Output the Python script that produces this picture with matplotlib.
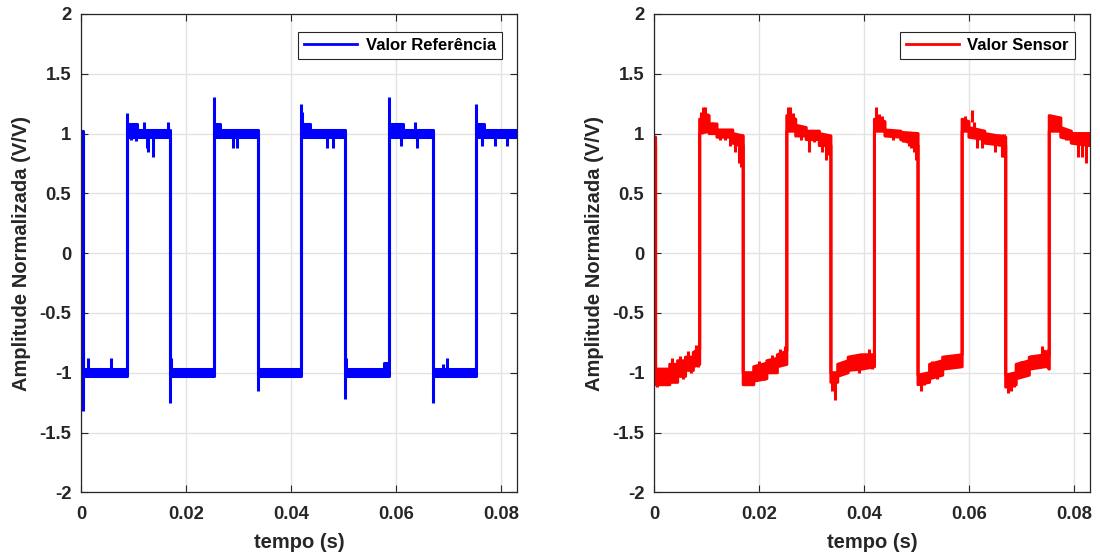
import matplotlib
matplotlib.use("Agg")
import matplotlib.pyplot as plt
from matplotlib.ticker import FuncFormatter

plt.rcParams['font.family'] = ['Liberation Sans', 'DejaVu Sans']
plt.rcParams['font.weight'] = 'bold'
plt.rcParams['axes.unicode_minus'] = False

# ---------------- data ----------------
# Reference signal: band envelope (time, lower, upper)
ref_t  = [0.0000, 0.0003, 0.0003, 0.0087, 0.0087, 0.0107, 0.0107, 0.0170,
          0.0170, 0.0253, 0.0253, 0.0265, 0.0265, 0.0337, 0.0337, 0.0420,
          0.0420, 0.0437, 0.0437, 0.0503, 0.0503, 0.0578, 0.0578, 0.0587,
          0.0587, 0.0614, 0.0614, 0.0670, 0.0670, 0.0753, 0.0753, 0.0768,
          0.0768, 0.0830]
ref_lo = [0.97, 0.97, -1.03, -1.03, 0.97, 0.97, 0.97, 0.97,
          -1.03, -1.03, 0.97, 0.97, 0.97, 0.97, -1.03, -1.03,
          0.97, 0.97, 0.97, 0.97, -1.03, -1.03, -1.03, -1.03,
          0.97, 0.97, 0.97, 0.97, -1.03, -1.03, 0.97, 0.97,
          0.97, 0.97]
ref_hi = [1.02, 1.02, -0.97, -0.97, 1.08, 1.08, 1.03, 1.03,
          -0.97, -0.97, 1.08, 1.08, 1.03, 1.03, -0.97, -0.97,
          1.08, 1.08, 1.03, 1.03, -0.97, -0.97, -0.92, -0.92,
          1.08, 1.08, 1.03, 1.03, -0.97, -0.97, 1.08, 1.08,
          1.03, 1.03]
# Reference spikes: time, base level, peak
ref_sp_t    = [0.0003, 0.00035, 0.0014, 0.0057, 0.0088, 0.0095, 0.0104, 0.0120,
               0.0125, 0.0128, 0.0138, 0.0166, 0.0170, 0.0171, 0.0253, 0.0290,
               0.0297, 0.0337, 0.0420, 0.0421, 0.0469, 0.0480, 0.0503, 0.0504,
               0.0587, 0.0610, 0.0636, 0.0640, 0.0670, 0.0690, 0.0697, 0.0753,
               0.0763, 0.0789, 0.0811]
ref_sp_base = [-1.0, -1.0, -1.0, -1.0, 1.0, 1.0, 1.0, 1.0,
               1.0, 1.0, 1.0, 1.0, -1.0, -1.0, 1.0, 1.0,
               1.0, -1.0, 1.0, 1.0, 1.0, 1.0, -1.0, -1.0,
               1.0, 1.0, 1.0, 1.0, -1.0, -1.0, -1.0, 1.0,
               1.0, 1.0, 1.0]
ref_sp_peak = [-1.32, -0.80, -0.88, -0.88, 1.17, 0.95, 0.94, 1.10,
               0.88, 0.85, 0.80, 1.10, -1.25, -0.88, 1.31, 0.88,
               0.88, -1.15, 1.25, 1.18, 0.88, 0.88, -1.22, -0.88,
               1.31, 0.90, 1.10, 0.88, -1.25, -0.93, -0.88, 1.25,
               0.90, 0.90, 0.90]

# Sensor signal: band envelope (time, lower, upper)
sen_t  = [0.0000, 0.0003, 0.0003, 0.0030, 0.0030, 0.0045, 0.0045, 0.0060,
          0.0060, 0.0075, 0.0075, 0.0087,
          0.0087, 0.0105, 0.0105, 0.0120, 0.0120, 0.0150, 0.0150, 0.0170,
          0.0170, 0.0190, 0.0190, 0.0215, 0.0215, 0.0235, 0.0235, 0.0253,
          0.0253, 0.0270, 0.0270, 0.0290, 0.0290, 0.0315, 0.0315, 0.0337,
          0.0337, 0.0350, 0.0350, 0.0370, 0.0370, 0.0395, 0.0420,
          0.0420, 0.0440, 0.0440, 0.0470, 0.0470, 0.0503,
          0.0503, 0.0525, 0.0525, 0.0550, 0.0550, 0.0587,
          0.0587, 0.0600, 0.0600, 0.0630, 0.0630, 0.0670,
          0.0670, 0.0690, 0.0690, 0.0715, 0.0715, 0.0745, 0.0745, 0.0753,
          0.0753, 0.0775, 0.0775, 0.0795, 0.0795, 0.0830]
sen_lo = [0.90, 0.90, -1.10, -1.10, -1.08, -1.08, -1.03, -1.03,
          -0.98, -0.98, -0.95, -0.93,
          1.00, 1.02, 1.00, 1.00, 0.97, 0.97, 0.92, 0.90,
          -1.10, -1.10, -1.07, -1.05, -1.00, -1.00, -0.95, -0.93,
          1.02, 1.02, 0.98, 0.98, 0.95, 0.95, 0.90, 0.90,
          -1.08, -1.08, -1.03, -1.00, -0.98, -0.97, -0.95,
          1.02, 1.02, 0.98, 0.97, 0.95, 0.90,
          -1.10, -1.08, -1.05, -1.02, -0.97, -0.95,
          1.02, 1.02, 0.97, 0.95, 0.92, 0.90,
          -1.12, -1.10, -1.05, -1.02, -0.97, -0.95, -0.93, -0.97,
          1.02, 1.02, 0.97, 0.95, 0.92, 0.90]
sen_hi = [0.97, 0.97, -0.97, -0.97, -0.93, -0.93, -0.90, -0.90,
          -0.87, -0.87, -0.83, -0.80,
          1.12, 1.15, 1.08, 1.08, 1.03, 1.03, 1.00, 0.98,
          -1.00, -1.00, -0.95, -0.92, -0.90, -0.88, -0.85, -0.82,
          1.15, 1.12, 1.07, 1.05, 1.02, 1.02, 1.00, 0.98,
          -1.00, -1.00, -0.93, -0.90, -0.87, -0.85, -0.85,
          1.12, 1.10, 1.03, 1.02, 1.01, 1.00,
          -1.02, -1.00, -0.93, -0.90, -0.87, -0.85,
          1.12, 1.10, 1.05, 1.02, 1.00, 0.97,
          -1.02, -1.00, -0.93, -0.90, -0.87, -0.85, -0.82, -0.85,
          1.15, 1.13, 1.05, 1.02, 1.00, 1.00]
# Sensor spikes: time, base level, peak
sen_sp_t = [0.0005, 0.0015, 0.0025, 0.0035, 0.0050, 0.0055, 0.0065, 0.0070, 0.0080, 0.0083,
            0.0090, 0.0094, 0.0097, 0.0101, 0.0110, 0.0125, 0.0135, 0.0145, 0.0150, 0.0155,
            0.0158, 0.0162, 0.0166, 0.0168,
            0.0175, 0.0185, 0.0200, 0.0210, 0.0225, 0.0240, 0.0250,
            0.0256, 0.0260, 0.0265, 0.0280, 0.0296, 0.0305, 0.0320, 0.0325, 0.0328, 0.0333,
            0.0340, 0.0345, 0.0360, 0.0380, 0.0390, 0.0410, 0.0415,
            0.0423, 0.0428, 0.0435, 0.0455, 0.0475, 0.0485, 0.0490, 0.0495, 0.0499, 0.0501,
            0.0508, 0.0515, 0.0530, 0.0540, 0.0560, 0.0570, 0.0580,
            0.0592, 0.0605, 0.0610, 0.0615, 0.0625, 0.0640, 0.0650, 0.0657, 0.0662, 0.0667,
            0.0675, 0.0680, 0.0686, 0.0700, 0.0720, 0.0730, 0.0740, 0.0750,
            0.0757, 0.0762, 0.0768, 0.0785, 0.0800, 0.0808, 0.0815, 0.0822, 0.0828]
sen_sp_base = [-1.0, -1.0, -1.0, -0.95, -0.95, -1.0, -0.90, -0.95, -0.85, -0.90,
               1.10, 1.10, 1.10, 1.05, 1.0, 1.0, 1.0, 1.0, 1.0, 1.0,
               1.0, 1.0, 1.0, 1.0,
               -1.05, -1.05, -0.95, -1.0, -0.92, -0.90, -0.85,
               1.10, 1.10, 1.10, 1.0, 1.0, 1.0, 1.0, 1.0, 1.0, 1.0,
               -1.05, -1.05, -0.95, -0.90, -0.95, -0.90, -0.90,
               1.10, 1.10, 1.05, 1.0, 1.0, 1.0, 1.0, 1.0, 1.0, 1.0,
               -1.05, -1.05, -0.95, -1.0, -0.90, -0.90, -0.90,
               1.10, 1.10, 1.0, 1.0, 1.0, 1.0, 1.0, 1.0, 1.0, 1.0,
               -1.05, -1.05, -1.05, -0.95, -0.90, -0.90, -0.90, -0.90,
               1.10, 1.10, 1.10, 1.0, 1.0, 1.0, 1.0, 1.0, 1.0]
sen_sp_peak = [-1.12, -1.10, -1.10, -0.88, -0.86, -1.05, -0.82, -1.00, -0.77, -0.95,
               1.18, 1.22, 1.22, 1.17, 1.10, 0.95, 0.95, 0.90, 0.92, 0.85,
               0.90, 0.75, 0.72, 0.80,
               -1.10, -1.10, -0.90, -1.06, -0.85, -0.80, -0.78,
               1.22, 1.22, 1.17, 0.95, 0.85, 0.93, 0.85, 0.90, 0.78, 0.82,
               -1.15, -1.23, -0.90, -0.85, -1.00, -0.80, -0.97,
               1.22, 1.16, 1.15, 0.95, 0.93, 0.90, 0.88, 0.85, 0.78, 0.82,
               -1.15, -1.10, -0.90, -1.05, -0.85, -0.95, -0.84,
               1.15, 1.20, 1.10, 0.88, 0.88, 0.93, 0.85, 0.90, 0.80, 0.80,
               -1.17, -1.15, -1.12, -0.90, -0.85, -0.95, -0.78, -0.80,
               1.15, 1.15, 1.15, 0.95, 0.92, 0.80, 0.80, 0.75, 0.90]

x_ticks = [0, 0.02, 0.04, 0.06, 0.08]
y_ticks = [-2, -1.5, -1, -0.5, 0, 0.5, 1, 1.5, 2]
x_label = 'tempo (s)'
y_label = 'Amplitude Normalizada (V/V)'
ref_name = 'Valor Referência'
sen_name = 'Valor Sensor'

# ---------------- figure ----------------
W, H = 1100, 556
fig = plt.figure(figsize=(W / 100, H / 100), dpi=100)
ax_w, ax_h = 435.7 / W, 478.3 / H
bottom = 63.7 / H
ax1 = fig.add_axes([81 / W, bottom, ax_w, ax_h])
ax2 = fig.add_axes([654 / W, bottom, ax_w, ax_h])

lw = 2.2
def draw(ax, t, lo, hi, st, sb, sp, color, name):
    ax.fill_between(t, lo, hi, color=color, linewidth=0)
    ax.plot(t, hi, color=color, lw=lw, label=name)
    ax.plot(t, lo, color=color, lw=lw)
    ax.vlines(st, sb, sp, color=color, lw=lw)

draw(ax1, ref_t, ref_lo, ref_hi, ref_sp_t, ref_sp_base, ref_sp_peak, '#0000ff', ref_name)
draw(ax2, sen_t, sen_lo, sen_hi, sen_sp_t, sen_sp_base, sen_sp_peak, '#ff0000', sen_name)

fmt = FuncFormatter(lambda v, p: ('%g' % round(v, 4)))
for ax in (ax1, ax2):
    ax.set_xlim(0, 0.083)
    ax.set_ylim(-2, 2)
    ax.set_xticks(x_ticks)
    ax.set_yticks(y_ticks)
    ax.xaxis.set_major_formatter(fmt)
    ax.yaxis.set_major_formatter(fmt)
    ax.grid(True, color='#e3e3e3', lw=1.0)
    ax.set_axisbelow(True)
    ax.tick_params(direction='in', length=5, width=0.8, colors='#262626',
                   labelsize=13.3, top=True, right=True)
    ax.tick_params(axis='x', pad=10)
    ax.tick_params(axis='y', pad=7)
    for lab in ax.get_xticklabels() + ax.get_yticklabels():
        lab.set_fontweight('bold')
    for s in ax.spines.values():
        s.set_color('#262626')
        s.set_linewidth(0.9)
    ax.set_xlabel(x_label, fontsize=14.5, fontweight='bold', color='#262626', labelpad=7)
    ax.set_ylabel(y_label, fontsize=14.5, fontweight='bold', color='#262626', labelpad=6)
    leg = ax.legend(loc='upper right', bbox_to_anchor=(1 - 15 / 435.7, 1 - 18 / 478.3),
                    borderaxespad=0, fancybox=False, framealpha=1, edgecolor='#262626',
                    handlelength=3.2, prop={'weight': 'bold', 'size': 12},
                    borderpad=0.35, handletextpad=0.5)
    leg.get_frame().set_linewidth(0.8)
    for ln in leg.get_lines():
        ln.set_linewidth(2.0)

fig.savefig('out.png', dpi=100)
